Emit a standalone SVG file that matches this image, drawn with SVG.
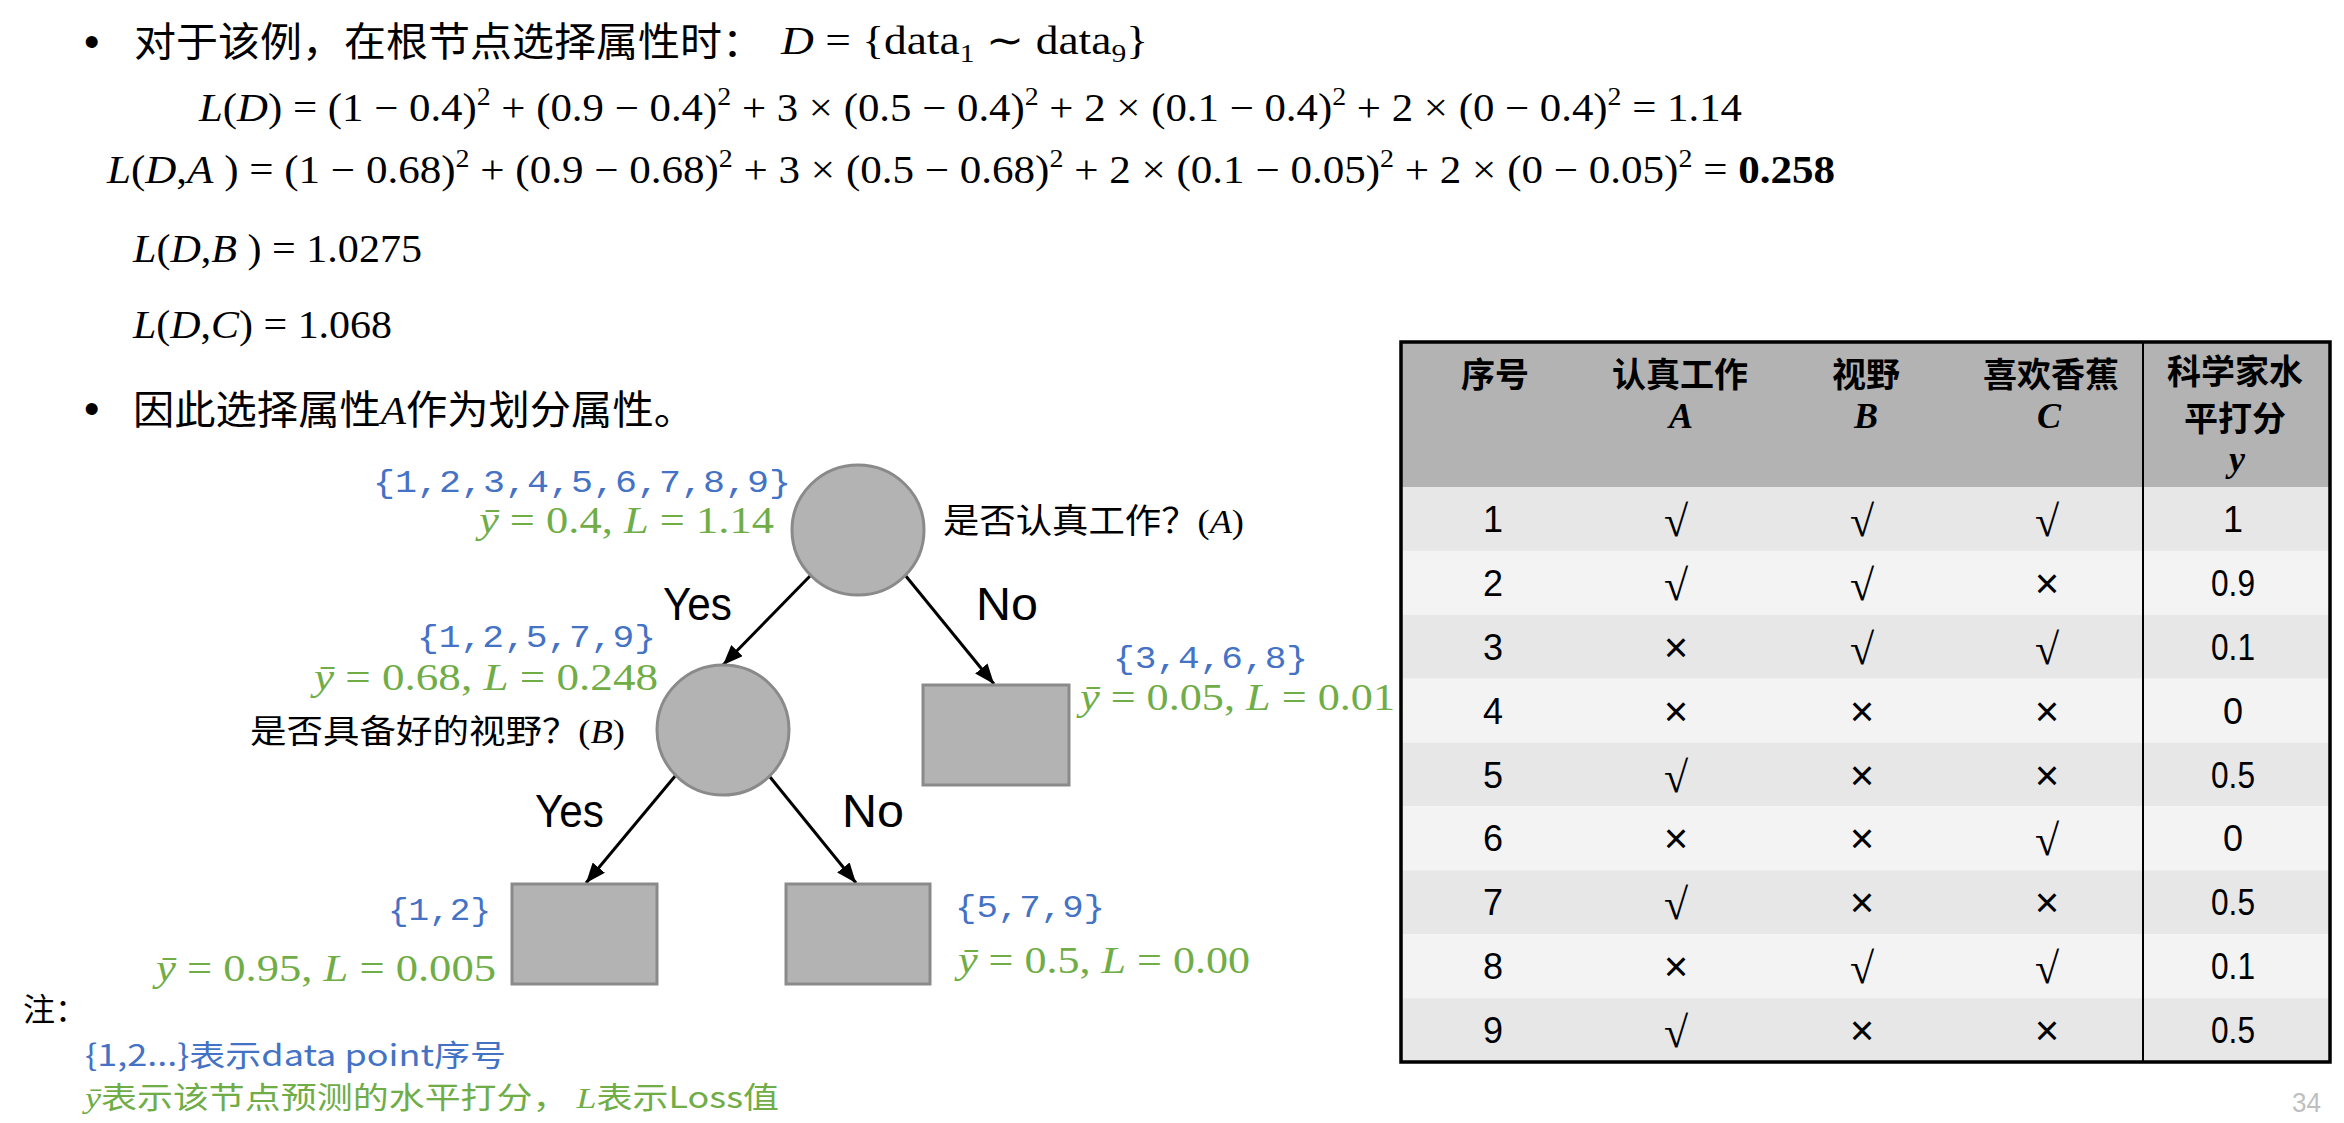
<svg xmlns="http://www.w3.org/2000/svg" width="2344" height="1123" viewBox="0 0 2344 1123">
<style>
.cjk{font-family:"Noto Sans CJK SC","Liberation Sans",sans-serif;fill:#000}
.m{font-family:"Liberation Serif","Noto Sans CJK SC",serif;fill:#000}
.i{font-style:italic}
.b{font-weight:bold}
.blue{fill:#4472c4}
.green{fill:#70ad47}
.set{font-family:"Liberation Mono",monospace;font-size:32px;fill:#4472c4}
.lbl{font-family:"Liberation Serif",serif;font-size:38px;fill:#70ad47}
.yn{font-family:"Liberation Sans",sans-serif;font-size:46px;fill:#000}
.node{fill:#b3b3b3;stroke:#8a8a8a;stroke-width:3}
.edge{stroke:#000;stroke-width:3;fill:none;marker-end:url(#ah)}
.hd{font-family:"Noto Sans CJK SC",sans-serif;font-weight:bold;font-size:34px;text-anchor:middle;fill:#000}
.hv{font-family:"Liberation Serif",serif;font-weight:bold;font-style:italic;font-size:36px;text-anchor:middle;fill:#000}
.cell{font-family:"Liberation Sans",sans-serif;font-size:36px;text-anchor:middle;fill:#000}
.x{font-family:"Liberation Sans",sans-serif;font-size:42px;text-anchor:middle;fill:#000}
.ck{font-family:"Liberation Serif","DejaVu Serif",serif;font-size:44px;text-anchor:middle;fill:#000}
</style>
<defs>
<marker id="ah" viewBox="0 0 20 16" refX="20" refY="8" markerWidth="20" markerHeight="16" markerUnits="userSpaceOnUse" orient="auto">
<path d="M0,0 L20,8 L0,16 z" fill="#000"/>
</marker>
</defs>
<rect width="2344" height="1123" fill="#fff"/>

<g id="text-top">
<text x="84" y="57" font-family="Liberation Sans,sans-serif" font-size="44">•</text>
<text class="cjk" x="134" y="56" font-size="40" textLength="630" lengthAdjust="spacingAndGlyphs">对于该例，在根节点选择属性时：</text>
<text class="m" x="781" y="54" font-size="40" textLength="367" lengthAdjust="spacingAndGlyphs"><tspan class="i">D</tspan> = {data<tspan font-size="26" dy="8">1</tspan><tspan dy="-8"> ∼ data</tspan><tspan font-size="26" dy="8">9</tspan><tspan dy="-8">}</tspan></text>

<text class="m" x="199" y="121" font-size="40" textLength="1543" lengthAdjust="spacingAndGlyphs"><tspan class="i">L</tspan>(<tspan class="i">D</tspan>) = (1 − 0.4)<tspan font-size="26" dy="-16">2</tspan><tspan dy="16"> + (0.9 − 0.4)</tspan><tspan font-size="26" dy="-16">2</tspan><tspan dy="16"> + 3 × (0.5 − 0.4)</tspan><tspan font-size="26" dy="-16">2</tspan><tspan dy="16"> + 2 × (0.1 − 0.4)</tspan><tspan font-size="26" dy="-16">2</tspan><tspan dy="16"> + 2 × (0 − 0.4)</tspan><tspan font-size="26" dy="-16">2</tspan><tspan dy="16"> = 1.14</tspan></text>

<text class="m" x="107" y="183" font-size="40" textLength="1728" lengthAdjust="spacingAndGlyphs"><tspan class="i">L</tspan>(<tspan class="i">D</tspan>,<tspan class="i">A</tspan> ) = (1 − 0.68)<tspan font-size="26" dy="-16">2</tspan><tspan dy="16"> + (0.9 − 0.68)</tspan><tspan font-size="26" dy="-16">2</tspan><tspan dy="16"> + 3 × (0.5 − 0.68)</tspan><tspan font-size="26" dy="-16">2</tspan><tspan dy="16"> + 2 × (0.1 − 0.05)</tspan><tspan font-size="26" dy="-16">2</tspan><tspan dy="16"> + 2 × (0 − 0.05)</tspan><tspan font-size="26" dy="-16">2</tspan><tspan dy="16"> = </tspan><tspan class="b">0.258</tspan></text>

<text class="m" x="133" y="262" font-size="40" textLength="289" lengthAdjust="spacingAndGlyphs"><tspan class="i">L</tspan>(<tspan class="i">D</tspan>,<tspan class="i">B</tspan> ) = 1.0275</text>
<text class="m" x="133" y="338" font-size="40" textLength="259" lengthAdjust="spacingAndGlyphs"><tspan class="i">L</tspan>(<tspan class="i">D</tspan>,<tspan class="i">C</tspan>) = 1.068</text>

<text x="84" y="424" font-family="Liberation Sans,sans-serif" font-size="44">•</text>
<text class="cjk" x="133" y="424" font-size="40" textLength="562" lengthAdjust="spacingAndGlyphs">因此选择属性<tspan font-family="Liberation Serif,serif" font-style="italic">A</tspan>作为划分属性。</text>
</g>

<g id="connectors">
<line class="edge" x1="811" y1="575" x2="723" y2="665"/>
<line class="edge" x1="905" y1="575" x2="994" y2="684"/>
<line class="edge" x1="676" y1="775" x2="586" y2="883"/>
<line class="edge" x1="770" y1="777" x2="856" y2="883"/>
<text class="yn" x="663" y="620" textLength="69" lengthAdjust="spacingAndGlyphs">Yes</text>
<text class="yn" x="976" y="620" textLength="62" lengthAdjust="spacingAndGlyphs">No</text>
<text class="yn" x="535" y="827" textLength="69" lengthAdjust="spacingAndGlyphs">Yes</text>
<text class="yn" x="842" y="827" textLength="62" lengthAdjust="spacingAndGlyphs">No</text>
</g>

<g id="node-root">
<ellipse class="node" cx="858" cy="530" rx="66" ry="65"/>
<text class="set" x="373" y="492" textLength="418" lengthAdjust="spacingAndGlyphs">{1,2,3,4,5,6,7,8,9}</text>
<text class="lbl" x="479" y="533" textLength="295" lengthAdjust="spacingAndGlyphs"><tspan class="i">ȳ</tspan> = 0.4, <tspan class="i">L</tspan> = 1.14</text>
<text class="cjk" x="943" y="533" font-size="34" textLength="301" lengthAdjust="spacingAndGlyphs">是否认真工作？<tspan font-family="Liberation Serif,serif">(<tspan font-style="italic">A</tspan>)</tspan></text>
</g>

<g id="node-B">
<ellipse class="node" cx="723" cy="730" rx="66" ry="65"/>
<text class="set" x="417" y="647" textLength="239" lengthAdjust="spacingAndGlyphs">{1,2,5,7,9}</text>
<text class="lbl" x="314" y="690" textLength="344" lengthAdjust="spacingAndGlyphs"><tspan class="i">ȳ</tspan> = 0.68, <tspan class="i">L</tspan> = 0.248</text>
<text class="cjk" x="250" y="743" font-size="33" textLength="375" lengthAdjust="spacingAndGlyphs">是否具备好的视野？<tspan font-family="Liberation Serif,serif">(<tspan font-style="italic">B</tspan>)</tspan></text>
</g>

<g id="node-no">
<rect class="node" x="923" y="685" width="146" height="100"/>
<text class="set" x="1113" y="668" textLength="195" lengthAdjust="spacingAndGlyphs">{3,4,6,8}</text>
<text class="lbl" x="1080" y="710" textLength="315" lengthAdjust="spacingAndGlyphs"><tspan class="i">ȳ</tspan> = 0.05, <tspan class="i">L</tspan> = 0.01</text>
</g>

<g id="node-leaf12">
<rect class="node" x="512" y="884" width="145" height="100"/>
<text class="set" x="388" y="920" textLength="103" lengthAdjust="spacingAndGlyphs">{1,2}</text>
<text class="lbl" x="156" y="981" textLength="340" lengthAdjust="spacingAndGlyphs"><tspan class="i">ȳ</tspan> = 0.95, <tspan class="i">L</tspan> = 0.005</text>
</g>

<g id="node-leaf579">
<rect class="node" x="786" y="884" width="144" height="100"/>
<text class="set" x="955" y="917" textLength="150" lengthAdjust="spacingAndGlyphs">{5,7,9}</text>
<text class="lbl" x="958" y="973" textLength="292" lengthAdjust="spacingAndGlyphs"><tspan class="i">ȳ</tspan> = 0.5, <tspan class="i">L</tspan> = 0.00</text>
</g>

<g id="notes">
<text class="cjk" x="23" y="1021" font-size="32">注：</text>
<text class="cjk blue" x="85" y="1066" font-size="30" textLength="421" lengthAdjust="spacingAndGlyphs">{1,2...}表示data point序号</text>
<text class="cjk green" x="85" y="1108" font-size="30" textLength="694" lengthAdjust="spacingAndGlyphs"><tspan font-family="Liberation Serif,serif" font-style="italic">ȳ</tspan>表示该节点预测的水平打分， <tspan font-family="Liberation Serif,serif" font-style="italic">L</tspan>表示Loss值</text>
</g>

<g id="table">
<rect x="1401" y="342" width="929" height="145" fill="#b3b3b3"/>
<rect x="1401" y="487" width="929" height="63.9" fill="#e7e7e7"/>
<rect x="1401" y="550.9" width="929" height="63.9" fill="#f3f3f3"/>
<rect x="1401" y="614.8" width="929" height="63.9" fill="#e7e7e7"/>
<rect x="1401" y="678.7" width="929" height="63.9" fill="#f3f3f3"/>
<rect x="1401" y="742.6" width="929" height="63.9" fill="#e7e7e7"/>
<rect x="1401" y="806.5" width="929" height="63.9" fill="#f3f3f3"/>
<rect x="1401" y="870.4" width="929" height="63.9" fill="#e7e7e7"/>
<rect x="1401" y="934.3" width="929" height="63.9" fill="#f3f3f3"/>
<rect x="1401" y="998.2" width="929" height="63.9" fill="#e7e7e7"/>
<line x1="2143" y1="342" x2="2143" y2="1062" stroke="#000" stroke-width="2"/>
<rect x="1401" y="342" width="929" height="720" fill="none" stroke="#000" stroke-width="3.5"/>

<text class="hd" x="1495" y="387">序号</text>
<text class="hd" x="1680" y="387">认真工作</text>
<text class="hv" x="1681" y="428">A</text>
<text class="hd" x="1866" y="387">视野</text>
<text class="hv" x="1866" y="428">B</text>
<text class="hd" x="2051" y="387">喜欢香蕉</text>
<text class="hv" x="2049" y="428">C</text>
<text class="hd" x="2235" y="384" font-size="32">科学家水</text>
<text class="hd" x="2235" y="431" font-size="32">平打分</text>
<text class="hv" x="2237" y="471">y</text>

<g class="row">
<text class="cell" x="1493" y="532">1</text><text class="ck" x="1676" y="536">√</text><text class="ck" x="1862" y="536">√</text><text class="ck" x="2047" y="536">√</text><text class="cell" x="2233" y="532">1</text>
</g>
<g class="row">
<text class="cell" x="1493" y="596">2</text><text class="ck" x="1676" y="600">√</text><text class="ck" x="1862" y="600">√</text><text class="x" x="2047" y="598">×</text><text class="cell" x="2233" y="596" textLength="44" lengthAdjust="spacingAndGlyphs">0.9</text>
</g>
<g class="row">
<text class="cell" x="1493" y="660">3</text><text class="x" x="1676" y="662">×</text><text class="ck" x="1862" y="664">√</text><text class="ck" x="2047" y="664">√</text><text class="cell" x="2233" y="660" textLength="44" lengthAdjust="spacingAndGlyphs">0.1</text>
</g>
<g class="row">
<text class="cell" x="1493" y="724">4</text><text class="x" x="1676" y="726">×</text><text class="x" x="1862" y="726">×</text><text class="x" x="2047" y="726">×</text><text class="cell" x="2233" y="724">0</text>
</g>
<g class="row">
<text class="cell" x="1493" y="788">5</text><text class="ck" x="1676" y="792">√</text><text class="x" x="1862" y="790">×</text><text class="x" x="2047" y="790">×</text><text class="cell" x="2233" y="788" textLength="44" lengthAdjust="spacingAndGlyphs">0.5</text>
</g>
<g class="row">
<text class="cell" x="1493" y="851">6</text><text class="x" x="1676" y="853">×</text><text class="x" x="1862" y="853">×</text><text class="ck" x="2047" y="855">√</text><text class="cell" x="2233" y="851">0</text>
</g>
<g class="row">
<text class="cell" x="1493" y="915">7</text><text class="ck" x="1676" y="919">√</text><text class="x" x="1862" y="917">×</text><text class="x" x="2047" y="917">×</text><text class="cell" x="2233" y="915" textLength="44" lengthAdjust="spacingAndGlyphs">0.5</text>
</g>
<g class="row">
<text class="cell" x="1493" y="979">8</text><text class="x" x="1676" y="981">×</text><text class="ck" x="1862" y="983">√</text><text class="ck" x="2047" y="983">√</text><text class="cell" x="2233" y="979" textLength="44" lengthAdjust="spacingAndGlyphs">0.1</text>
</g>
<g class="row">
<text class="cell" x="1493" y="1043">9</text><text class="ck" x="1676" y="1047">√</text><text class="x" x="1862" y="1045">×</text><text class="x" x="2047" y="1045">×</text><text class="cell" x="2233" y="1043" textLength="44" lengthAdjust="spacingAndGlyphs">0.5</text>
</g>
</g>

<text x="2292" y="1112" font-family="Liberation Sans,sans-serif" font-size="28" fill="#bfbfbf" textLength="29" lengthAdjust="spacingAndGlyphs">34</text>
</svg>
